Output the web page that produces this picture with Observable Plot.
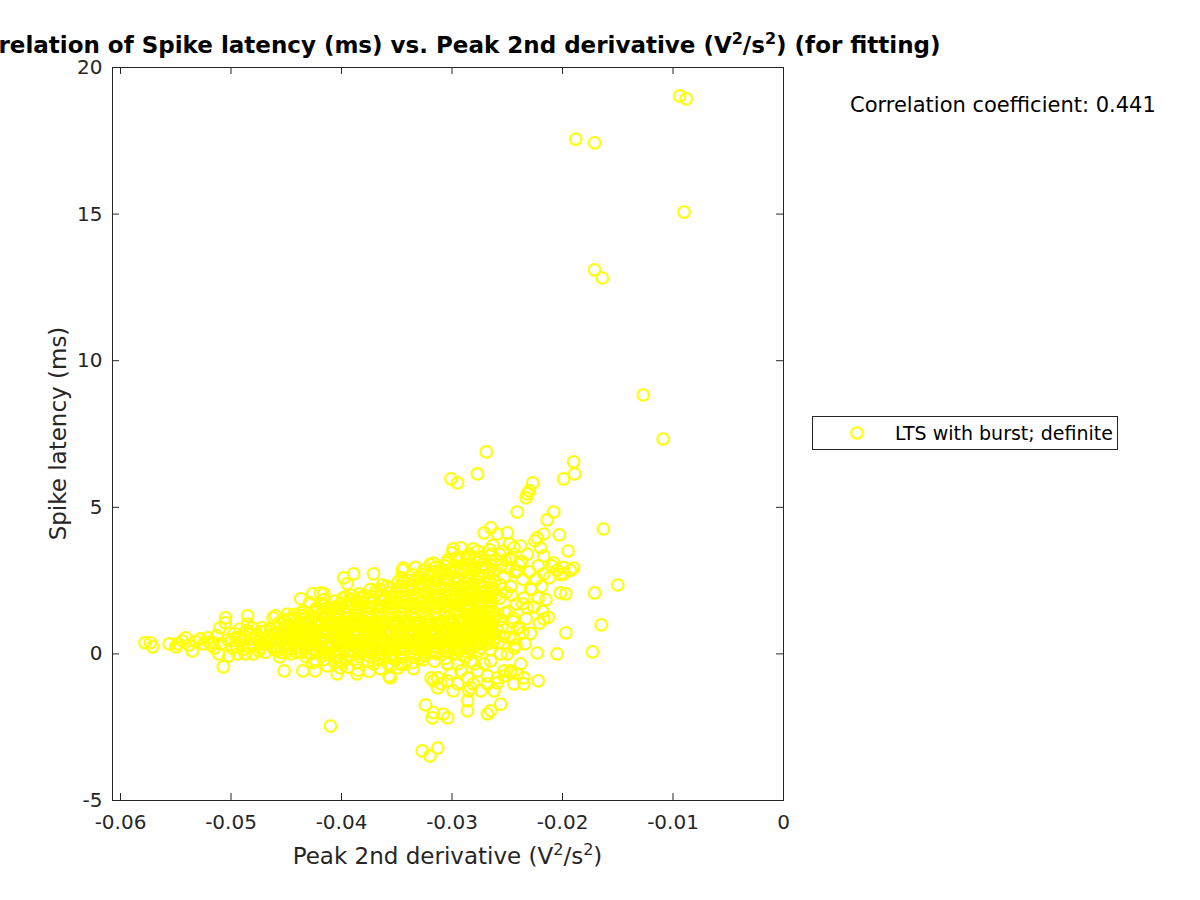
<!DOCTYPE html>
<html><head><meta charset="utf-8">
<script src="https://cdn.jsdelivr.net/npm/d3@7"></script>
<script src="https://cdn.jsdelivr.net/npm/@observablehq/plot@0.6"></script>
<style>
body{margin:0;background:#fff;}
#wrap{position:relative;width:1200px;height:900px;overflow:hidden;}
</style></head><body><div id="wrap"></div>
<script>
// ---- data (x: Peak 2nd derivative V^2/s^2, y: Spike latency ms) ----
const leftTail = [[-0.0578,0.38],[-0.0573,0.38],[-0.0571,0.24],[-0.0556,0.34],[-0.0550,0.24],[-0.0548,0.34],[-0.0544,0.44],[-0.0541,0.55],[-0.0535,0.10],[-0.0532,0.42],[-0.0528,0.51],[-0.0525,0.34],[-0.0521,0.55],[-0.0518,0.30],[-0.0516,0.38],[-0.0513,0.62],[-0.0511,0.00],[-0.0510,0.89],[-0.0507,-0.44],[-0.0505,1.23],[-0.0505,1.06],[-0.0503,0.48],[-0.0502,-0.07],[-0.0500,0.44],[-0.0497,0.70],[-0.0495,0.25],[-0.0493,0.55],[-0.0491,0.44],[-0.0489,0.15],[-0.0487,0.00],[-0.0486,0.80],[-0.0485,1.30],[-0.0485,1.02],[-0.0483,0.50],[-0.0481,0.89],[-0.0480,0.00],[-0.0479,0.30],[-0.0477,0.65],[-0.0476,0.44],[-0.0474,0.20],[-0.0472,0.90],[-0.0470,0.55],[-0.0469,0.05],[-0.0467,0.61],[-0.0466,0.35],[-0.0464,0.85],[-0.0462,1.23],[-0.0460,1.30],[-0.0461,0.15],
[-0.0499,0.20],[-0.0496,0.55],[-0.0492,0.85],[-0.0490,0.30],[-0.0488,0.60],[-0.0484,0.25],[-0.0482,0.70],[-0.0478,0.55],[-0.0475,0.10],[-0.0473,0.75],[-0.0471,0.35],[-0.0468,0.80],[-0.0465,0.50],[-0.0463,0.25],[-0.0461,0.70],[-0.0494,0.00],[-0.0515,0.20],[-0.0509,0.35],[-0.0520,0.40],[-0.0538,0.30]];

const coreCloud = [
[-0.0458,0.12],[-0.0455,0.50],[-0.0452,0.85],[-0.0457,1.05],[-0.0451,0.30],[-0.0454,0.65],[-0.0459,0.40],[-0.0453,1.15],[-0.0456,-0.10],[-0.0452,-0.58],
[-0.0448,0.20],[-0.0445,0.55],[-0.0442,0.90],[-0.0447,1.20],[-0.0441,0.05],[-0.0444,0.75],[-0.0449,1.36],[-0.0443,1.35],[-0.0446,0.00],[-0.0440,0.45],[-0.0440,0.89],
[-0.0438,0.10],[-0.0435,0.60],[-0.0432,1.00],[-0.0437,1.40],[-0.0431,0.30],[-0.0434,0.80],[-0.0437,1.88],[-0.0433,1.20],[-0.0436,0.35],[-0.0430,0.70],[-0.0435,-0.58],[-0.0431,1.13],
[-0.0428,0.00],[-0.0425,0.50],[-0.0422,0.95],[-0.0427,1.30],[-0.0421,0.25],[-0.0424,0.75],[-0.0426,2.05],[-0.0423,1.55],[-0.0426,-0.30],[-0.0420,0.55],[-0.0428,0.35],[-0.0424,-0.58],[-0.0429,1.75],
[-0.0418,0.15],[-0.0415,0.60],[-0.0412,1.05],[-0.0417,1.45],[-0.0411,0.35],[-0.0414,0.85],[-0.0419,2.08],[-0.0416,2.05],[-0.0413,1.25],[-0.0416,-0.20],[-0.0410,0.55],[-0.0413,-0.41],[-0.0419,1.71],[-0.0411,0.00],
[-0.0408,0.05],[-0.0405,0.50],[-0.0402,0.95],[-0.0407,1.36],[-0.0401,0.30],[-0.0404,0.75],[-0.0401,1.71],[-0.0403,1.20],[-0.0406,-0.30],[-0.0400,0.60],[-0.0401,-0.24],[-0.0404,-0.68],[-0.0409,1.10],[-0.0408,1.55],
[-0.0398,0.15],[-0.0395,0.55],[-0.0392,1.00],[-0.0397,1.45],[-0.0391,0.35],[-0.0394,0.80],[-0.0398,2.59],[-0.0395,2.39],[-0.0393,1.25],[-0.0396,-0.20],[-0.0390,0.65],[-0.0392,1.70],[-0.0394,-0.45],[-0.0399,1.90],[-0.0391,2.00],
[-0.0388,0.05],[-0.0385,0.45],[-0.0382,0.90],[-0.0387,1.35],[-0.0381,0.25],[-0.0384,0.70],[-0.0389,2.73],[-0.0383,1.15],[-0.0386,-0.30],[-0.0380,0.55],[-0.0382,1.75],[-0.0385,-0.55],[-0.0388,1.55],[-0.0384,2.05],[-0.0381,1.95],
[-0.0378,0.10],[-0.0375,0.50],[-0.0372,0.95],[-0.0377,1.40],[-0.0371,0.30],[-0.0374,0.75],[-0.0379,2.00],[-0.0373,1.20],[-0.0376,-0.25],[-0.0370,0.60],[-0.0372,1.75],[-0.0375,-0.60],[-0.0378,1.60],[-0.0374,2.20],[-0.0371,2.73],[-0.0376,0.95],
[-0.0368,0.15],[-0.0365,0.55],[-0.0362,1.00],[-0.0367,1.45],[-0.0361,0.35],[-0.0364,0.80],[-0.0369,2.15],[-0.0363,1.25],[-0.0366,-0.20],[-0.0360,0.65],[-0.0362,1.85],[-0.0365,-0.50],[-0.0368,1.65],[-0.0364,1.10],[-0.0361,0.00],[-0.0363,2.35],
[-0.0358,0.10],[-0.0355,0.50],[-0.0352,0.95],[-0.0357,1.40],[-0.0351,0.30],[-0.0354,0.75],[-0.0359,2.30],[-0.0353,1.20],[-0.0356,-0.82],[-0.0350,0.60],[-0.0352,1.90],[-0.0355,-0.40],[-0.0358,1.70],[-0.0354,1.05],[-0.0351,2.10],[-0.0357,-0.10],
[-0.0348,0.15],[-0.0345,0.55],[-0.0342,1.00],[-0.0347,1.45],[-0.0341,0.35],[-0.0344,0.80],[-0.0349,2.45],[-0.0343,1.25],[-0.0346,-0.35],[-0.0340,0.65],[-0.0342,1.95],[-0.0345,2.86],[-0.0348,1.75],[-0.0344,1.10],[-0.0341,2.20],[-0.0346,2.60],[-0.0344,2.93],[-0.0343,-0.34],
[-0.0338,0.05],[-0.0335,0.50],[-0.0332,0.95],[-0.0337,1.40],[-0.0331,0.30],[-0.0334,0.75],[-0.0339,2.50],[-0.0333,1.20],[-0.0336,-0.30],[-0.0330,0.60],[-0.0332,1.90],[-0.0335,-0.50],[-0.0338,1.70],[-0.0334,1.05],[-0.0331,2.25],[-0.0336,2.70],[-0.0333,2.95],
[-0.0328,0.15],[-0.0325,0.55],[-0.0322,1.00],[-0.0327,1.45],[-0.0321,0.35],[-0.0324,0.80],[-0.0329,2.60],[-0.0323,1.25],[-0.0326,-0.20],[-0.0320,0.65],[-0.0322,1.95],[-0.0325,-0.05],[-0.0328,1.75],[-0.0324,1.10],[-0.0321,2.30],[-0.0326,2.85],[-0.0323,2.10],[-0.0320,3.05],
[-0.0318,0.10],[-0.0315,0.50],[-0.0312,0.95],[-0.0317,1.40],[-0.0311,0.30],[-0.0314,0.75],[-0.0319,2.70],[-0.0313,1.20],[-0.0316,-0.25],[-0.0310,0.60],[-0.0312,1.90],[-0.0315,2.95],[-0.0318,1.70],[-0.0314,1.05],[-0.0311,2.30],[-0.0316,2.50],[-0.0313,2.10],[-0.0317,3.10],[-0.0319,-0.82],
[-0.0308,0.15],[-0.0305,0.55],[-0.0302,1.00],[-0.0307,1.45],[-0.0301,0.35],[-0.0304,0.80],[-0.0309,2.75],[-0.0303,1.25],[-0.0306,-0.15],[-0.0300,0.65],[-0.0302,1.95],[-0.0305,3.10],[-0.0308,1.75],[-0.0304,1.10],[-0.0301,2.30],[-0.0306,2.55],[-0.0303,2.15],[-0.0300,3.45],[-0.0304,-0.34],[-0.0301,-0.68],
[-0.0298,0.20],[-0.0295,0.60],[-0.0292,1.05],[-0.0297,1.50],[-0.0291,0.40],[-0.0294,0.85],[-0.0299,2.80],[-0.0293,1.30],[-0.0296,0.00],[-0.0290,0.70],[-0.0292,2.00],[-0.0295,3.20],[-0.0298,1.80],[-0.0294,1.15],[-0.0291,2.35],[-0.0296,2.60],[-0.0293,2.20],[-0.0299,3.58],[-0.0292,3.62],[-0.0297,3.00],
[-0.0288,0.25],[-0.0285,0.65],[-0.0282,1.10],[-0.0287,1.55],[-0.0281,0.45],[-0.0284,0.90],[-0.0289,2.85],[-0.0283,1.35],[-0.0286,0.05],[-0.0280,0.75],[-0.0282,2.05],[-0.0285,3.25],[-0.0288,1.85],[-0.0284,1.20],[-0.0281,2.40],[-0.0286,2.65],[-0.0283,2.25],[-0.0281,3.58],[-0.0287,3.05],[-0.0289,-0.10],
[-0.0278,0.30],[-0.0275,0.70],[-0.0272,1.15],[-0.0277,1.60],[-0.0271,0.50],[-0.0274,0.95],[-0.0279,2.90],[-0.0273,1.40],[-0.0276,0.10],[-0.0270,0.80],[-0.0272,2.10],[-0.0275,3.30],[-0.0278,1.90],[-0.0274,1.25],[-0.0271,2.45],[-0.0276,2.70],[-0.0273,2.30],[-0.0277,3.50],[-0.0272,3.05],[-0.0271,4.13],
[-0.0268,0.35],[-0.0265,0.75],[-0.0262,1.20],[-0.0267,1.65],[-0.0261,0.55],[-0.0264,1.00],[-0.0269,2.95],[-0.0263,1.45],[-0.0266,0.15],[-0.0260,0.85],[-0.0262,2.15],[-0.0265,4.30],[-0.0268,1.95],[-0.0264,3.40],[-0.0261,2.50],[-0.0266,2.75],[-0.0263,3.70],[-0.0259,4.09],[-0.0260,3.20],
[-0.0258,0.40],[-0.0255,0.90],[-0.0252,1.40],[-0.0257,1.90],[-0.0253,2.60],[-0.0256,3.00],[-0.0251,2.10],[-0.0254,3.50],[-0.0250,4.13],[-0.0257,1.15],[-0.0253,0.60],[-0.0250,0.00],[-0.0252,3.20],[-0.0256,2.35],
[-0.0248,0.55],[-0.0245,1.10],[-0.0242,1.70],[-0.0247,2.30],[-0.0243,2.80],[-0.0246,3.30],[-0.0244,3.62],[-0.0249,1.45],[-0.0242,0.30],[-0.0246,2.00],[-0.0240,3.05],[-0.0248,3.75],
[-0.0266,3.55],[-0.0257,3.40],[-0.0248,3.22],[-0.0280,3.30],[-0.0285,3.40]
];

const coreFill = [
[-0.0459,0.20],[-0.0453,0.45],[-0.0457,0.70],[-0.0451,0.95],[-0.0455,0.05],[-0.0451,0.60],
[-0.0449,0.10],[-0.0443,0.35],[-0.0447,0.65],[-0.0441,1.00],[-0.0445,0.85],[-0.0442,0.20],[-0.0448,0.50],
[-0.0439,0.50],[-0.0433,0.20],[-0.0437,0.95],[-0.0431,0.55],[-0.0435,1.20],[-0.0432,-0.10],[-0.0438,0.80],[-0.0434,1.45],
[-0.0429,0.60],[-0.0423,0.30],[-0.0427,0.85],[-0.0421,1.10],[-0.0425,1.45],[-0.0422,0.05],[-0.0428,1.10],[-0.0424,-0.20],
[-0.0419,0.40],[-0.0413,0.20],[-0.0417,0.85],[-0.0411,1.50],[-0.0415,1.20],[-0.0412,0.70],[-0.0418,1.00],[-0.0414,0.00],[-0.0416,1.65],
[-0.0409,0.35],[-0.0403,0.15],[-0.0407,0.80],[-0.0401,1.05],[-0.0405,1.25],[-0.0402,0.45],[-0.0408,0.60],[-0.0404,-0.10],[-0.0406,1.60],[-0.0403,1.45],
[-0.0399,0.40],[-0.0393,0.10],[-0.0397,0.85],[-0.0391,1.15],[-0.0395,1.60],[-0.0392,0.50],[-0.0398,0.65],[-0.0394,-0.05],[-0.0396,1.20],[-0.0393,1.85],[-0.0399,-0.30],
[-0.0389,0.35],[-0.0383,0.10],[-0.0387,0.80],[-0.0381,1.10],[-0.0385,1.55],[-0.0382,0.45],[-0.0388,0.60],[-0.0384,-0.10],[-0.0386,1.20],[-0.0383,1.90],[-0.0389,1.00],
[-0.0379,0.40],[-0.0373,0.15],[-0.0377,0.80],[-0.0371,1.10],[-0.0375,1.55],[-0.0372,0.45],[-0.0378,0.65],[-0.0374,-0.10],[-0.0376,1.25],[-0.0373,1.95],[-0.0379,1.05],[-0.0371,-0.35],
[-0.0369,0.40],[-0.0363,0.15],[-0.0367,0.85],[-0.0361,1.15],[-0.0365,1.60],[-0.0362,0.45],[-0.0368,0.65],[-0.0364,-0.10],[-0.0366,1.25],[-0.0363,2.00],[-0.0369,1.05],[-0.0361,1.80],
[-0.0359,0.40],[-0.0353,0.15],[-0.0357,0.85],[-0.0351,1.15],[-0.0355,1.60],[-0.0352,0.45],[-0.0358,0.65],[-0.0354,-0.15],[-0.0356,1.25],[-0.0353,2.00],[-0.0359,1.05],[-0.0351,1.80],[-0.0356,2.25],
[-0.0349,0.40],[-0.0343,0.15],[-0.0347,0.85],[-0.0341,1.15],[-0.0345,1.60],[-0.0342,0.45],[-0.0348,0.65],[-0.0344,-0.10],[-0.0346,1.25],[-0.0343,2.05],[-0.0349,1.05],[-0.0341,1.80],[-0.0346,2.30],
[-0.0339,0.35],[-0.0333,0.15],[-0.0337,0.85],[-0.0331,1.10],[-0.0335,1.60],[-0.0332,0.45],[-0.0338,0.60],[-0.0334,-0.10],[-0.0336,1.25],[-0.0333,2.05],[-0.0339,1.05],[-0.0331,1.75],[-0.0336,2.35],[-0.0332,2.55],
[-0.0329,0.40],[-0.0323,0.20],[-0.0327,0.85],[-0.0321,1.15],[-0.0325,1.60],[-0.0322,0.45],[-0.0328,0.65],[-0.0324,-0.05],[-0.0326,1.30],[-0.0323,2.05],[-0.0329,1.05],[-0.0321,1.80],[-0.0326,2.40],[-0.0322,2.65],
[-0.0319,0.40],[-0.0313,0.20],[-0.0317,0.85],[-0.0311,1.10],[-0.0315,1.60],[-0.0312,0.45],[-0.0318,0.60],[-0.0314,0.00],[-0.0316,1.25],[-0.0313,2.00],[-0.0319,1.05],[-0.0311,1.75],[-0.0316,2.30],[-0.0312,2.75],
[-0.0309,0.40],[-0.0303,0.25],[-0.0307,0.85],[-0.0301,1.15],[-0.0305,1.60],[-0.0302,0.50],[-0.0308,0.65],[-0.0304,0.05],[-0.0306,1.30],[-0.0303,2.00],[-0.0309,1.05],[-0.0301,1.80],[-0.0306,2.35],[-0.0302,2.80],[-0.0307,3.00],
[-0.0299,0.45],[-0.0293,0.25],[-0.0297,0.90],[-0.0291,1.20],[-0.0295,1.65],[-0.0292,0.55],[-0.0298,0.65],[-0.0294,0.10],[-0.0296,1.35],[-0.0293,2.05],[-0.0299,1.10],[-0.0291,1.85],[-0.0296,2.40],[-0.0292,2.85],[-0.0297,3.25],
[-0.0289,0.45],[-0.0283,0.30],[-0.0287,0.90],[-0.0281,1.20],[-0.0285,1.65],[-0.0282,0.60],[-0.0288,0.70],[-0.0284,0.15],[-0.0286,1.35],[-0.0283,2.10],[-0.0289,1.10],[-0.0281,1.85],[-0.0286,2.40],[-0.0282,2.85],[-0.0287,3.20],
[-0.0279,0.50],[-0.0273,0.35],[-0.0277,0.95],[-0.0271,1.25],[-0.0275,1.70],[-0.0272,0.65],[-0.0278,0.75],[-0.0274,0.20],[-0.0276,1.40],[-0.0273,2.10],[-0.0279,1.15],[-0.0271,1.90],[-0.0276,2.45],[-0.0272,2.80],
[-0.0269,0.55],[-0.0263,0.40],[-0.0267,1.00],[-0.0261,1.30],[-0.0265,1.75],[-0.0262,0.70],[-0.0268,0.80],[-0.0266,1.45],[-0.0263,2.20],[-0.0269,1.20],[-0.0261,1.95],[-0.0266,2.45],[-0.0262,2.85]
];

const coreDense = [
[-0.0446,0.30],[-0.0444,0.60],[-0.0446,0.95],[-0.0444,1.15],
[-0.0436,0.05],[-0.0434,0.40],[-0.0436,0.70],[-0.0434,1.05],[-0.0436,1.30],
[-0.0426,0.15],[-0.0424,0.45],[-0.0426,0.70],[-0.0424,1.00],[-0.0426,1.25],[-0.0424,1.50],
[-0.0416,0.05],[-0.0414,0.40],[-0.0416,0.75],[-0.0414,1.00],[-0.0416,1.30],[-0.0414,1.55],[-0.0416,1.85],
[-0.0406,0.15],[-0.0404,0.40],[-0.0406,0.70],[-0.0404,1.00],[-0.0406,1.30],[-0.0404,1.55],[-0.0406,1.80],
[-0.0396,0.25],[-0.0394,0.45],[-0.0396,0.75],[-0.0394,1.05],[-0.0396,1.35],[-0.0394,1.60],[-0.0396,1.95],
[-0.0386,0.20],[-0.0384,0.40],[-0.0386,0.70],[-0.0384,1.00],[-0.0386,1.30],[-0.0384,1.55],[-0.0386,1.80],[-0.0384,0.00],
[-0.0376,0.20],[-0.0374,0.45],[-0.0376,0.70],[-0.0374,1.05],[-0.0376,1.35],[-0.0374,1.60],[-0.0376,1.90],[-0.0374,0.05],
[-0.0366,0.20],[-0.0364,0.45],[-0.0366,0.70],[-0.0364,1.00],[-0.0366,1.35],[-0.0364,1.60],[-0.0366,1.95],[-0.0364,0.00],[-0.0366,2.20],
[-0.0356,0.20],[-0.0354,0.45],[-0.0356,0.70],[-0.0354,1.00],[-0.0356,1.35],[-0.0354,1.60],[-0.0356,1.95],[-0.0354,0.00],[-0.0356,2.10],
[-0.0346,0.20],[-0.0344,0.45],[-0.0346,0.70],[-0.0344,1.00],[-0.0346,1.35],[-0.0344,1.60],[-0.0346,1.95],[-0.0344,0.00],[-0.0346,2.15],[-0.0344,2.45],
[-0.0336,0.20],[-0.0334,0.45],[-0.0336,0.75],[-0.0334,1.00],[-0.0336,1.35],[-0.0334,1.60],[-0.0336,1.95],[-0.0334,0.00],[-0.0336,2.20],[-0.0334,2.50],
[-0.0326,0.25],[-0.0324,0.45],[-0.0326,0.75],[-0.0324,1.00],[-0.0326,1.35],[-0.0324,1.60],[-0.0326,1.95],[-0.0324,0.05],[-0.0326,2.20],[-0.0324,2.50],[-0.0326,2.70],
[-0.0316,0.25],[-0.0314,0.45],[-0.0316,0.75],[-0.0314,1.00],[-0.0316,1.35],[-0.0314,1.60],[-0.0316,1.95],[-0.0314,0.05],[-0.0316,2.20],[-0.0314,2.50],[-0.0316,2.80],
[-0.0306,0.30],[-0.0304,0.50],[-0.0306,0.80],[-0.0304,1.05],[-0.0306,1.40],[-0.0304,1.65],[-0.0306,1.95],[-0.0304,0.10],[-0.0306,2.20],[-0.0304,2.50],[-0.0306,2.85],[-0.0304,3.20],
[-0.0296,0.30],[-0.0294,0.50],[-0.0296,0.80],[-0.0294,1.05],[-0.0296,1.40],[-0.0294,1.65],[-0.0296,1.95],[-0.0294,0.15],[-0.0296,2.25],[-0.0294,2.50],[-0.0296,2.85],[-0.0294,3.30],
[-0.0286,0.35],[-0.0284,0.55],[-0.0286,0.85],[-0.0284,1.05],[-0.0286,1.45],[-0.0284,1.65],[-0.0286,1.95],[-0.0284,0.20],[-0.0286,2.25],[-0.0284,2.55],[-0.0286,2.90],[-0.0284,3.30],
[-0.0276,0.40],[-0.0274,0.60],[-0.0276,0.90],[-0.0274,1.10],[-0.0276,1.45],[-0.0274,1.70],[-0.0276,2.00],[-0.0274,2.30],[-0.0276,2.60],[-0.0274,2.95],[-0.0276,3.20],
[-0.0266,0.50],[-0.0264,0.70],[-0.0266,0.95],[-0.0264,1.20],[-0.0266,1.55],[-0.0264,1.80],[-0.0266,2.05],[-0.0264,2.35],[-0.0266,2.60],[-0.0264,3.00]
];

const rightScatter = [[-0.0238,3.68],[-0.0236,2.55],[-0.0235,1.90],[-0.0233,1.20],[-0.0239,0.90],[-0.0232,3.40],[-0.0230,2.80],[-0.0228,2.20],[-0.0226,1.60],[-0.0225,3.85],[-0.0223,3.96],[-0.0222,3.00],[-0.0221,1.05],[-0.0229,0.70],[-0.0234,0.35],[-0.0237,3.15],[-0.0224,2.55],
[-0.0220,3.62],[-0.0217,4.09],[-0.0217,3.34],[-0.0212,2.60],[-0.0210,3.00],[-0.0208,3.10],[-0.0205,2.85],[-0.0203,4.06],[-0.0202,2.70],[-0.0199,2.95],[-0.0197,2.05],[-0.0195,3.51],[-0.0193,2.85],[-0.0190,2.93],[-0.0215,1.85],[-0.0218,1.45],[-0.0219,2.30],[-0.0213,1.25],
[-0.0250,2.93],[-0.0241,2.83],[-0.0217,2.73],[-0.0199,2.73],[-0.0202,2.08],[-0.0222,1.91],[-0.0229,2.22],[-0.0236,1.71],[-0.0232,1.57],[-0.0217,1.19],[-0.0245,1.23],[-0.0241,0.89],[-0.0236,0.72],[-0.0245,0.51],[-0.0244,0.20],[-0.0197,0.72],[-0.0223,0.03],[-0.0205,0.00]];

const lowerCluster = [[-0.0222,-0.92],[-0.0317,-0.92],[-0.0310,-1.02],[-0.0313,-0.82],[-0.0295,-1.02],[-0.0299,-1.26],[-0.0286,-0.82],[-0.0286,-1.60],[-0.0283,-1.16],[-0.0274,-1.26],[-0.0268,-1.02],[-0.0277,-0.58],[-0.0262,-1.26],[-0.0256,-1.71],[-0.0265,-1.94],[-0.0268,-2.05],[-0.0259,-0.82],[-0.0253,-0.58],[-0.0247,-0.58],[-0.0241,-0.68],[-0.0235,-0.82],[-0.0235,-1.02],[-0.0244,-1.02],[-0.0238,-0.34],[-0.0286,-1.94],[-0.0304,-0.34],[-0.0292,-0.58],[-0.0280,-0.34],[-0.0271,-0.34],[-0.0324,-1.74],[-0.0317,-2.00],[-0.0308,-2.05],[-0.0304,-2.18],[-0.0318,-2.18],[-0.0327,-3.31],[-0.0320,-3.48],[-0.0313,-3.21],[-0.0358,-0.34],[-0.0347,-0.34],[-0.0410,-2.46],
[-0.0401,-0.48],[-0.0386,-0.68],[-0.0357,-0.75],[-0.0349,-0.48],[-0.0329,-0.14],[-0.0295,-0.34],[-0.0283,-0.24],[-0.0265,-0.24],[-0.0256,0.00],[-0.0244,0.55],[-0.0253,-0.75],[-0.0247,-0.65],[-0.0268,-0.75],[-0.0259,-0.99],[-0.0281,-1.02],[-0.0285,-1.26],[-0.0304,-0.92],[-0.0313,-1.16]];

const outliers = [[-0.0094,19.03],[-0.0088,18.93],[-0.0090,15.07],[-0.0188,17.56],[-0.0171,17.43],[-0.0171,13.10],[-0.0164,12.82],[-0.0127,8.83],[-0.0109,7.33],[-0.0269,6.89],[-0.0301,5.97],[-0.0295,5.83],[-0.0277,6.14],[-0.0190,6.55],[-0.0189,6.14],[-0.0199,5.97],[-0.0227,5.83],[-0.0230,5.56],[-0.0232,5.46],[-0.0233,5.32],[-0.0241,4.84],[-0.0208,4.84],[-0.0214,4.57],[-0.0163,4.26],[-0.0150,2.35],[-0.0171,2.08],[-0.0165,0.99],[-0.0173,0.07]];

const xTicks = [-0.06, -0.05, -0.04, -0.03, -0.02, -0.01, 0];
const yTicks = [-5, 0, 5, 10, 15, 20];
const xDomain = [-0.060724, 0];
const yDomain = [-5, 20];
const seriesName = "LTS with burst; definite";
const correlationText = "Correlation coefficient: 0.441";

const points = [...leftTail, ...coreCloud, ...coreFill, ...coreDense, ...rightScatter, ...lowerCluster, ...outliers].map(([x, y]) => ({x, y}));

// ---- layout ----
const W = 1200, H = 900, mL = 112, mR = 417, mT = 67, mB = 100, tickLen = 7;
const frameW = W - mL - mR, frameH = H - mT - mB;
const axisColor = "#262626";
const yellow = "#ffff00";
const font = "'DejaVu Sans', sans-serif";

const chart = Plot.plot({
  width: W, height: H,
  marginLeft: mL, marginRight: mR, marginTop: mT, marginBottom: mB,
  style: {fontFamily: font, fontSize: "20px", color: axisColor, background: "white"},
  x: {domain: xDomain},
  y: {domain: yDomain},
  marks: [
    Plot.dot(points, {x: "x", y: "y", r: 5.8, stroke: yellow, strokeWidth: 2.1, fill: "none"}),
    Plot.frame({stroke: axisColor, strokeWidth: 1}),
    Plot.ruleX(xTicks, {x: d => d, insetTop: frameH - tickLen, stroke: axisColor}),
    Plot.ruleX(xTicks, {x: d => d, insetBottom: frameH - tickLen, stroke: axisColor}),
    Plot.ruleY(yTicks, {y: d => d, insetRight: frameW - tickLen, stroke: axisColor}),
    Plot.ruleY(yTicks, {y: d => d, insetLeft: frameW - tickLen, stroke: axisColor}),
    Plot.axisX(xTicks, {tickSize: 0, tickPadding: 14, label: null, tickFormat: d => d === 0 ? "0" : d.toFixed(2), fill: axisColor}),
    Plot.axisY(yTicks, {tickSize: 0, tickPadding: 10, label: null, tickFormat: d => String(d), fill: axisColor})
  ]
});
document.getElementById("wrap").appendChild(chart);

// ---- annotations (title, labels, legend, correlation) ----
const svg = d3.select(chart);
function richText(parent, parts, attrs, supSize, shift) {
  const t = parent.append("text");
  for (const [k, v] of Object.entries(attrs)) t.attr(k, v);
  let raised = false;
  for (const p of parts) {
    const sp = t.append("tspan").text(p.t);
    if (p.sup) { sp.attr("font-size", supSize); if (!raised) { sp.attr("dy", -shift); raised = true; } }
    else if (raised) { sp.attr("dy", shift); raised = false; }
  }
  return t;
}
const cx = (mL + W - mR) / 2;
richText(svg, [{t: "Correlation of Spike latency (ms) vs. Peak 2nd derivative (V"}, {t: "2", sup: true}, {t: "/s"}, {t: "2", sup: true}, {t: ") (for fitting)"}],
  {x: cx, y: 53, "text-anchor": "middle", "font-weight": "bold", "font-size": 23, fill: "#000", "font-family": font}, 16, 9);
richText(svg, [{t: "Peak 2nd derivative (V"}, {t: "2", sup: true}, {t: "/s"}, {t: "2", sup: true}, {t: ")"}],
  {x: cx, y: 864, "text-anchor": "middle", "font-size": 23, fill: axisColor, "font-family": font}, 16, 9);
svg.append("text").attr("transform", `translate(66,${(mT + H - mB) / 2}) rotate(-90)`)
  .attr("text-anchor", "middle").attr("font-size", 23).attr("fill", axisColor)
  .attr("font-family", font).text("Spike latency (ms)");
svg.append("text").attr("x", 850).attr("y", 111.5).attr("text-anchor", "start").attr("font-size", 21).attr("fill", "#000")
  .attr("font-family", font).text(correlationText);
const lg = svg.append("g");
lg.append("rect").attr("x", 812.5).attr("y", 416.5).attr("width", 305).attr("height", 33)
  .attr("fill", "white").attr("stroke", axisColor).attr("stroke-width", 1);
lg.append("circle").attr("cx", 857).attr("cy", 433).attr("r", 5.8).attr("fill", "none")
  .attr("stroke", yellow).attr("stroke-width", 2.1);
lg.append("text").attr("x", 895).attr("y", 440).attr("text-anchor", "start").attr("font-size", 19).attr("fill", "#000")
  .attr("font-family", font).text(seriesName);
</script>
</body></html>
